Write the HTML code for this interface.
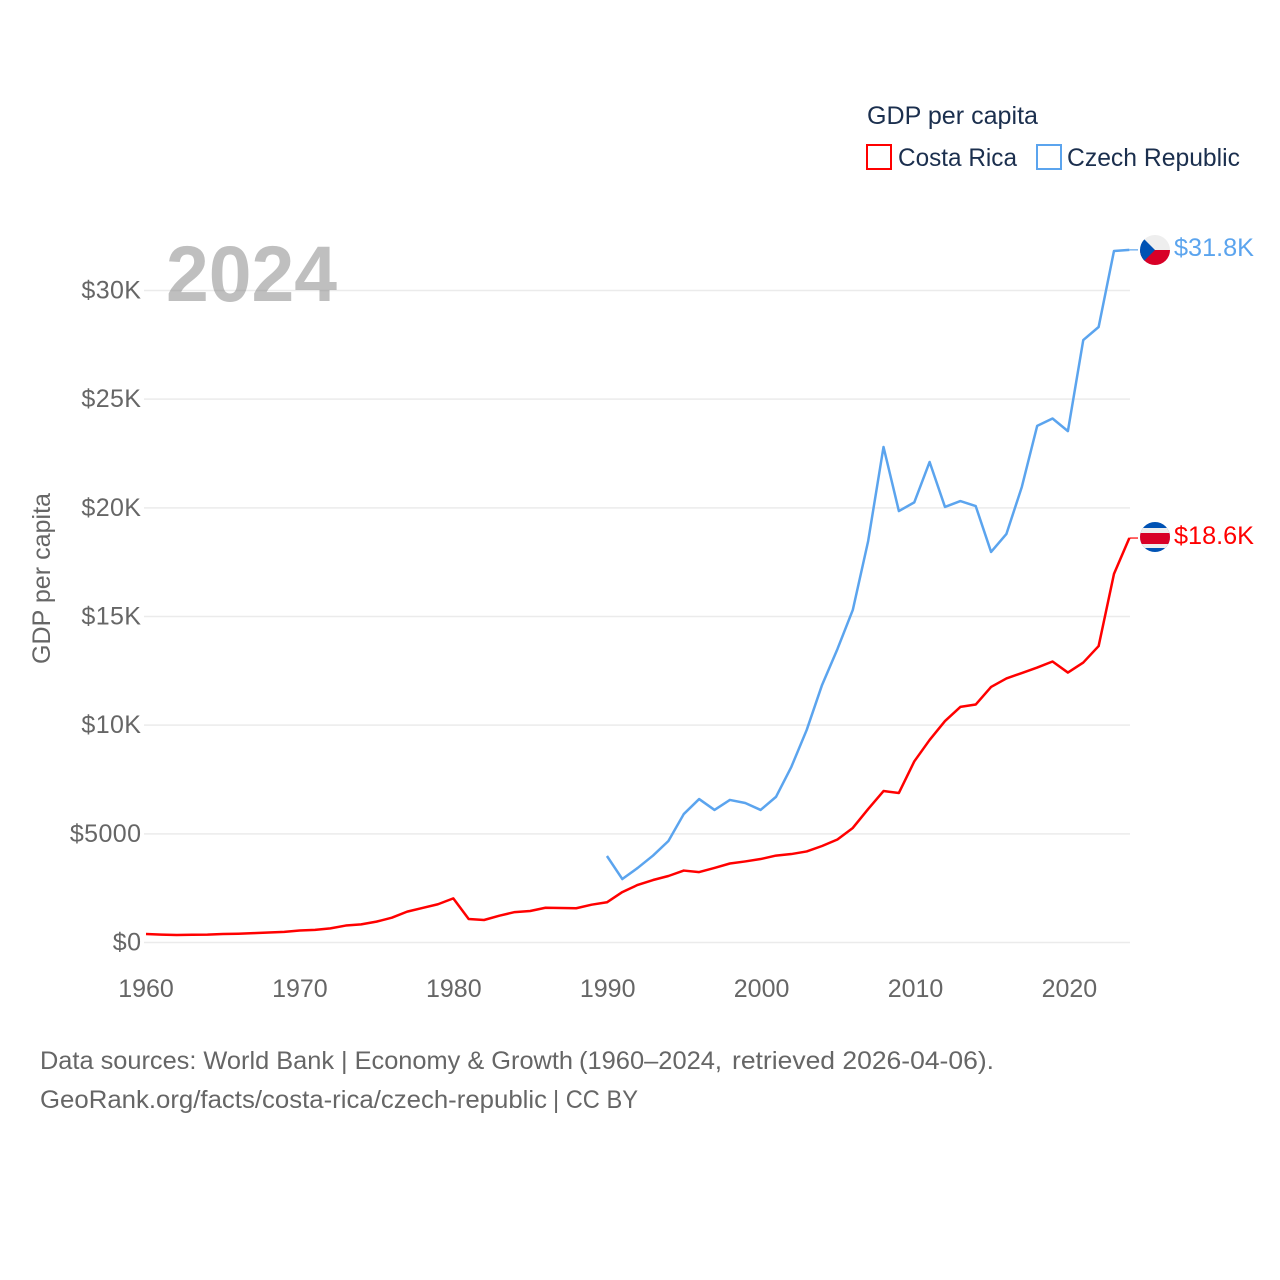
<!DOCTYPE html>
<html lang="en">
<head>
<meta charset="utf-8">
<title>GDP per capita: Costa Rica and Czech Republic</title>
<style>
html,body{margin:0;padding:0;background:#fff;width:1280px;height:1280px;overflow:hidden}
svg{display:block}
text{font-family:"Liberation Sans",sans-serif}
.tick{font-size:25px;fill:#666}
.legend{font-size:25px;fill:#1b2f4e}
.foot{font-size:25px;fill:#666}
</style>
</head>
<body>
<svg id="chart" width="1280" height="1280" viewBox="0 0 1280 1280" xmlns="http://www.w3.org/2000/svg">
  <defs>
    <clipPath id="clip-cz"><circle cx="1155" cy="250" r="15"/></clipPath>
    <clipPath id="clip-cr"><circle cx="1155" cy="537" r="15"/></clipPath>
  </defs>
  <g id="grid"></g>
  <g id="yticks"></g>
  <g id="xticks"></g>
  <text x="166" y="301" font-size="79" font-weight="700" fill="#808080" fill-opacity="0.5" textLength="171" lengthAdjust="spacingAndGlyphs">2024</text>
  <text transform="translate(50,664) rotate(-90)" font-size="25" fill="#666" textLength="171" lengthAdjust="spacingAndGlyphs">GDP per capita</text>
  <g id="series"></g>

  <g>
    <text class="legend" x="867" y="124" textLength="171" lengthAdjust="spacingAndGlyphs">GDP per capita</text>
    <rect x="867" y="145" width="24" height="24" fill="#fff" stroke="#ff0000" stroke-width="2"/>
    <text class="legend" x="898" y="166" textLength="119" lengthAdjust="spacingAndGlyphs">Costa Rica</text>
    <rect x="1037" y="145" width="24" height="24" fill="#fff" stroke="#5ba4ee" stroke-width="2"/>
    <text class="legend" x="1067" y="166" textLength="173" lengthAdjust="spacingAndGlyphs">Czech Republic</text>
  </g>

  <g clip-path="url(#clip-cz)">
    <rect x="1140" y="235" width="30" height="15" fill="#eeeeee"/>
    <rect x="1140" y="250" width="30" height="15" fill="#d80027"/>
    <polygon points="1140,235 1155,250 1140,265" fill="#0052b4"/>
  </g>
  <g clip-path="url(#clip-cr)">
    <rect x="1140" y="522" width="30" height="30" fill="#0052b4"/>
    <rect x="1140" y="528" width="30" height="20" fill="#eeeeee"/>
    <rect x="1140" y="533" width="30" height="11" fill="#d80027"/>
  </g>
  <text x="1174" y="256" font-size="25" fill="#5ba4ee" textLength="80" lengthAdjust="spacingAndGlyphs">$31.8K</text>
  <text x="1174" y="544" font-size="25" fill="#ff0000" textLength="80" lengthAdjust="spacingAndGlyphs">$18.6K</text>

  <g>
    <text class="foot" x="40" y="1069" textLength="294" lengthAdjust="spacingAndGlyphs">Data sources: World Bank</text>
    <text class="foot" x="341" y="1069" textLength="232" lengthAdjust="spacingAndGlyphs">| Economy &amp; Growth</text>
    <text class="foot" x="579" y="1069" textLength="143" lengthAdjust="spacingAndGlyphs">(1960–2024,</text>
    <text class="foot" x="732" y="1069" textLength="262" lengthAdjust="spacingAndGlyphs">retrieved 2026-04-06).</text>
  </g>
  <g>
    <text class="foot" x="40" y="1108" textLength="507" lengthAdjust="spacingAndGlyphs">GeoRank.org/facts/costa-rica/czech-republic</text>
    <text class="foot" x="553" y="1108" textLength="85" lengthAdjust="spacingAndGlyphs">| CC BY</text>
  </g>
</svg>
<script>
const costaRicaYears = [1960,1961,1962,1963,1964,1965,1966,1967,1968,1969,1970,1971,1972,1973,1974,1975,1976,1977,1978,1979,1980,1981,1982,1983,1984,1985,1986,1987,1988,1989,1990,1991,1992,1993,1994,1995,1996,1997,1998,1999,2000,2001,2002,2003,2004,2005,2006,2007,2008,2009,2010,2011,2012,2013,2014,2015,2016,2017,2018,2019,2020,2021,2022,2023,2024];
const costaRicaValues = [390,365,345,355,365,390,405,430,460,490,550,580,650,780,835,960,1140,1420,1590,1760,2030,1080,1035,1235,1400,1450,1600,1590,1575,1740,1850,2320,2650,2875,3060,3310,3240,3430,3635,3730,3840,4000,4070,4190,4440,4740,5270,6140,6970,6880,8330,9320,10190,10840,10950,11760,12150,12400,12650,12930,12420,12880,13640,16960,18610];
const czechYears = [1990,1991,1992,1993,1994,1995,1996,1997,1998,1999,2000,2001,2002,2003,2004,2005,2006,2007,2008,2009,2010,2011,2012,2013,2014,2015,2016,2017,2018,2019,2020,2021,2022,2023,2024];
const czechValues = [3980,2920,3430,4000,4670,5910,6600,6100,6560,6420,6100,6700,8080,9780,11850,13500,15300,18470,22800,19850,20250,22110,20040,20310,20080,17970,18800,20960,23770,24110,23530,27720,28320,31820,31870];
const yTickValues = [0,5000,10000,15000,20000,25000,30000];
const yTickLabels = ['$0','$5000','$10K','$15K','$20K','$25K','$30K'];
const xTickValues = [1960,1970,1980,1990,2000,2010,2020];

const NS = 'http://www.w3.org/2000/svg';
const xScale = year => 146 + (year - 1960) * 15.365;
const xTickScale = year => 146 + (year - 1960) * 15.39;
const yScale = value => 942.5 - value * (942.5 - 290.5) / 30000;
const gridGroup = document.getElementById('grid');
const yGroup = document.getElementById('yticks');
const xGroup = document.getElementById('xticks');
const seriesGroup = document.getElementById('series');

yTickValues.forEach((value, i) => {
  const line = document.createElementNS(NS, 'line');
  
  
  line.setAttribute('x1', 144);
  line.setAttribute('x2', 1130);
  line.setAttribute('y1', yScale(value));
  line.setAttribute('y2', yScale(value));
  line.setAttribute('stroke', '#ebebeb');
  line.setAttribute('stroke-width', '1.5');
  gridGroup.appendChild(line);

  const label = document.createElementNS(NS, 'text');
  
  
  label.setAttribute('class', 'tick');
  label.setAttribute('x', 141.4);
  label.setAttribute('y', yScale(value) + 8);
  label.setAttribute('text-anchor', 'end');
  label.setAttribute('letter-spacing', '0.4');
  label.textContent = yTickLabels[i];
  yGroup.appendChild(label);
});

xTickValues.forEach(year => {
  const label = document.createElementNS(NS, 'text');
  
  
  label.setAttribute('class', 'tick');
  label.setAttribute('x', xTickScale(year));
  label.setAttribute('y', 997);
  label.setAttribute('text-anchor', 'middle');
  label.textContent = year;
  xGroup.appendChild(label);
});

function drawSeries(years, values, color) {
  const points = years.map((year, i) => xScale(year).toFixed(2) + ',' + yScale(values[i]).toFixed(2));
  const path = document.createElementNS(NS, 'polyline');
  
  
  path.setAttribute('points', points.join(' '));
  path.setAttribute('fill', 'none');
  path.setAttribute('stroke', color);
  path.setAttribute('stroke-width', '2.5');
  path.setAttribute('stroke-linejoin', 'round');
  seriesGroup.appendChild(path);

  const lastY = yScale(values[values.length - 1]);
  const leader = document.createElementNS(NS, 'line');
  
  
  leader.setAttribute('x1', xScale(years[years.length - 1]));
  leader.setAttribute('x2', 1138);
  leader.setAttribute('y1', lastY);
  leader.setAttribute('y2', lastY);
  leader.setAttribute('stroke', color);
  leader.setAttribute('stroke-width', '1.2');
  seriesGroup.appendChild(leader);
}
drawSeries(costaRicaYears, costaRicaValues, '#ff0000');
drawSeries(czechYears, czechValues, '#5ba4ee');
</script>
</body>
</html>
